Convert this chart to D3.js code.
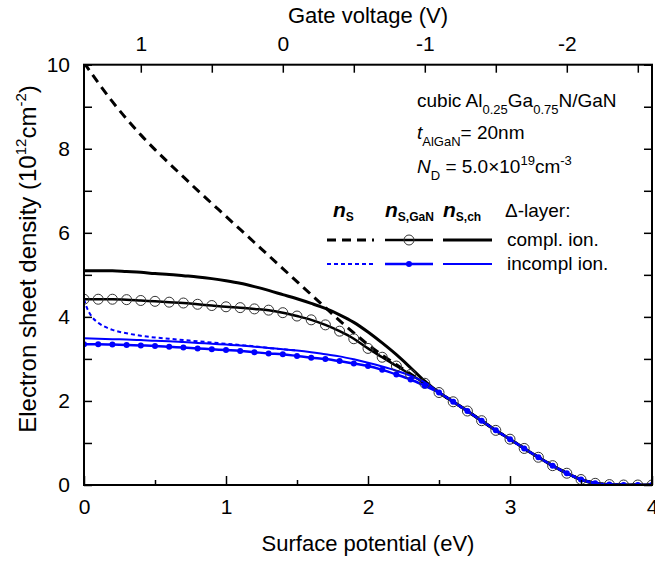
<!DOCTYPE html>
<html lang="en">
<head>
<meta charset="UTF-8">
<title>Electron sheet density</title>
<script src="https://d3js.org/d3.v7.min.js"></script>
<style>
body { margin: 0; background: #fff; }
svg text { font-family: "Liberation Sans", Arial, sans-serif; fill: #000; }
</style>
</head>
<body>
<svg width="655" height="561"></svg>
<script>
// surface potential grid (eV)
var potentialHead = [0, 0.1, 0.2, 0.3, 0.4, 0.5, 0.6, 0.7, 0.8, 0.9, 1.0, 1.1, 1.2,
    1.3, 1.4, 1.5, 1.6, 1.7, 1.8, 1.9, 2.0, 2.1, 2.2, 2.3, 2.4];
var potentialTail = [2.5, 2.6, 2.7, 2.8, 2.9, 3.0, 3.1, 3.2, 3.3, 3.4, 3.5, 3.6, 3.7, 3.8, 3.9, 4.0];
// all curves share the same tail above ~2.5 eV
var densityTail = [2.20, 1.98, 1.76, 1.53, 1.30, 1.09, 0.87, 0.66, 0.46, 0.28, 0.13, 0.04, 0.01, 0, 0, 0];

// complete ionization
var nsCompl = [10.05, 9.57, 9.12, 8.71, 8.33, 7.98, 7.65, 7.33, 7.01, 6.70, 6.39, 6.08, 5.77,
    5.46, 5.15, 4.84, 4.53, 4.22, 3.91, 3.62, 3.34, 3.09, 2.86, 2.64, 2.42];
var nsGaNCompl = [4.42, 4.42, 4.42, 4.41, 4.39, 4.37, 4.35, 4.33, 4.30, 4.27, 4.24, 4.22, 4.19,
    4.16, 4.10, 4.02, 3.93, 3.81, 3.66, 3.48, 3.25, 3.04, 2.83, 2.63, 2.42];
var nsChCompl = [5.10, 5.10, 5.10, 5.08, 5.06, 5.03, 5.01, 4.98, 4.95, 4.91, 4.86, 4.80, 4.72,
    4.63, 4.53, 4.43, 4.32, 4.20, 4.05, 3.87, 3.64, 3.38, 3.10, 2.79, 2.47];

// incomplete ionization
var potentialIncompl = [0, 0.02, 0.05, 0.1, 0.15, 0.2, 0.3, 0.4, 0.5, 0.6, 0.7, 0.8, 0.9, 1.0,
    1.1, 1.2, 1.3, 1.4, 1.5];
var nsIncompl = [4.42, 4.22, 4.03, 3.86, 3.76, 3.69, 3.61, 3.55, 3.51, 3.48, 3.45, 3.42, 3.39, 3.36,
    3.33, 3.30, 3.26, 3.23, 3.20];
var nsGaNIncompl = [3.35, 3.35, 3.34, 3.33, 3.32, 3.31, 3.29, 3.27, 3.25, 3.23, 3.21, 3.19, 3.16,
    3.13, 3.11, 3.07, 3.03, 3.00, 2.95, 2.89, 2.83, 2.74, 2.63, 2.51, 2.36];
var nsChIncompl = [3.49, 3.48, 3.47, 3.46, 3.45, 3.43, 3.42, 3.40, 3.38, 3.36, 3.34, 3.32, 3.29,
    3.26, 3.23, 3.20, 3.16, 3.11, 3.06, 2.99, 2.91, 2.82, 2.72, 2.60, 2.44];

var xTicks = [0, 1, 2, 3, 4];
var yTicks = [0, 2, 4, 6, 8, 10];
var gateTicks = [1, 0, -1, -2];
var gateDomain = [1.4, -2.6];

var svg = d3.select('svg');
var plotLeft = 84, plotRight = 652, plotTop = 64.7, plotBottom = 485;

var x = d3.scaleLinear().domain([0, 4]).range([plotLeft, plotRight]);
var y = d3.scaleLinear().domain([0, 10]).range([plotBottom, plotTop]);
var xGate = d3.scaleLinear().domain(gateDomain).range([plotLeft, plotRight]);

function pairs(xs, ys) {
    return xs.map(function(d, i) { return [d, ys[i]]; });
}
function full(head) {
    return pairs(potentialHead.concat(potentialTail), head.concat(densityTail));
}

svg.append('clipPath').attr('id', 'clip')
    .append('rect').attr('x', plotLeft).attr('y', plotTop)
    .attr('width', plotRight - plotLeft).attr('height', plotBottom - plotTop);

var line = d3.line()
    .x(function(d) { return x(d[0]); })
    .y(function(d) { return y(d[1]); })
    .curve(d3.curveMonotoneX);

var plot = svg.append('g').attr('clip-path', 'url(#clip)');

var series = [
    { data: full(nsCompl), color: '#000', width: 3, dash: '9,6' },
    { data: full(nsGaNCompl), color: '#000', width: 2.5, marker: 'circle' },
    { data: full(nsChCompl), color: '#000', width: 3 },
    { data: pairs(potentialIncompl, nsIncompl), color: '#0000ff', width: 2, dash: '4,3' },
    { data: full(nsGaNIncompl), color: '#0000ff', width: 2.5, marker: 'dot' },
    { data: full(nsChIncompl), color: '#0000ff', width: 2 }
];

series.forEach(function(s) {
    plot.append('path')
        .datum(s.data)
        .attr('d', line)
        .attr('fill', 'none')
        .attr('stroke', s.color)
        .attr('stroke-width', s.width)
        .attr('stroke-dasharray', s.dash || null);
});

// markers on top
series.forEach(function(s) {
    if (s.marker === 'circle') {
        plot.selectAll('circle.open').data(s.data).enter()
            .append('circle').attr('class', 'open')
            .attr('cx', function(d) { return x(d[0]); })
            .attr('cy', function(d) { return y(d[1]); })
            .attr('r', 5)
            .attr('fill', 'none')
            .attr('stroke', '#333')
            .attr('stroke-width', 1);
    }
});
series.forEach(function(s) {
    if (s.marker === 'dot') {
        plot.selectAll('circle.dot').data(s.data).enter()
            .append('circle').attr('class', 'dot')
            .attr('cx', function(d) { return x(d[0]); })
            .attr('cy', function(d) { return y(d[1]); })
            .attr('r', 3)
            .attr('fill', '#0000ff');
    }
});

// axes
var fs = 21;
var gx = svg.append('g').attr('transform', 'translate(0,' + plotBottom + ')')
    .call(d3.axisBottom(x).tickValues(xTicks).tickFormat(d3.format('d')).tickSizeInner(-9).tickSizeOuter(0).tickPadding(14));
var gxMinor = svg.append('g').attr('transform', 'translate(0,' + plotBottom + ')')
    .call(d3.axisBottom(x).tickValues([0.5, 1.5, 2.5, 3.5]).tickFormat('').tickSizeInner(-5).tickSizeOuter(0));
var gy = svg.append('g').attr('transform', 'translate(' + plotLeft + ',0)')
    .call(d3.axisLeft(y).tickValues(yTicks).tickFormat(d3.format('d')).tickSizeInner(-8).tickSizeOuter(0).tickPadding(14));
var gyMinor = svg.append('g').attr('transform', 'translate(' + plotLeft + ',0)')
    .call(d3.axisLeft(y).tickValues([1, 3, 5, 7, 9]).tickFormat('').tickSizeInner(-8).tickSizeOuter(0));
var gr = svg.append('g').attr('transform', 'translate(' + plotRight + ',0)')
    .call(d3.axisRight(y).ticks(10).tickFormat('').tickSizeInner(-8).tickSizeOuter(0));
var gt = svg.append('g').attr('transform', 'translate(0,' + plotTop + ')')
    .call(d3.axisTop(xGate).tickValues(gateTicks).tickFormat(d3.format('d')).tickSizeInner(-8).tickSizeOuter(0).tickPadding(14));
var gtMinor = svg.append('g').attr('transform', 'translate(0,' + plotTop + ')')
    .call(d3.axisTop(xGate).tickValues([0.5, -0.5, -1.5, -2.5]).tickFormat('').tickSizeInner(-8).tickSizeOuter(0));

[gx, gxMinor, gy, gyMinor, gr, gt, gtMinor].forEach(function(g) {
    g.select('.domain').remove();
    g.selectAll('line').attr('stroke', '#000').attr('stroke-width', 1.5);
    g.selectAll('text').attr('font-size', fs).attr('font-family', '"Liberation Sans", Arial, sans-serif');
});
gt.selectAll('text').text(function(d) { return d < 0 ? '-' + Math.abs(d) : d; });

svg.append('rect')
    .attr('x', plotLeft).attr('y', plotTop)
    .attr('width', plotRight - plotLeft).attr('height', plotBottom - plotTop)
    .attr('fill', 'none').attr('stroke', '#000').attr('stroke-width', 2);

// axis titles
svg.append('text').attr('x', 368).attr('y', 551).attr('text-anchor', 'middle')
    .attr('font-size', 22).text('Surface potential (eV)');
svg.append('text').attr('x', 368).attr('y', 23).attr('text-anchor', 'middle')
    .attr('font-size', 22).text('Gate voltage (V)');

var yl = svg.append('text').attr('transform', 'translate(36,259) rotate(-90)')
    .attr('text-anchor', 'middle').attr('font-size', 24);
yl.append('tspan').text('Electron sheet density (10');
yl.append('tspan').attr('font-size', 15).attr('dy', -10).text('12');
yl.append('tspan').attr('dy', 10).text('cm');
yl.append('tspan').attr('font-size', 15).attr('dy', -10).text('-2');
yl.append('tspan').attr('dy', 10).text(')');

// annotation
var a1 = svg.append('text').attr('x', 417).attr('y', 107).attr('font-size', 19);
a1.append('tspan').text('cubic Al');
a1.append('tspan').attr('font-size', 13).attr('dy', 7).text('0.25');
a1.append('tspan').attr('dy', -7).text('Ga');
a1.append('tspan').attr('font-size', 13).attr('dy', 7).text('0.75');
a1.append('tspan').attr('dy', -7).text('N/GaN');

var a2 = svg.append('text').attr('x', 417).attr('y', 139).attr('font-size', 19);
a2.append('tspan').attr('font-style', 'italic').text('t');
a2.append('tspan').attr('font-size', 13).attr('dy', 7).text('AlGaN');
a2.append('tspan').attr('dy', -7).text('= 20nm');

var a3 = svg.append('text').attr('x', 417).attr('y', 173).attr('font-size', 19);
a3.append('tspan').attr('font-style', 'italic').text('N');
a3.append('tspan').attr('font-size', 13).attr('dy', 7).text('D');
a3.append('tspan').attr('dy', -7).text(' = 5.0\u00d710');
a3.append('tspan').attr('font-size', 13).attr('dy', -8).text('19');
a3.append('tspan').attr('dy', 8).text('cm');
a3.append('tspan').attr('font-size', 13).attr('dy', -8).text('-3');

// legend
var headers = [
    { x: 333, sub: 'S' },
    { x: 385, sub: 'S,GaN' },
    { x: 443, sub: 'S,ch' }
];
headers.forEach(function(h) {
    var t = svg.append('text').attr('x', h.x).attr('y', 217).attr('font-size', 21)
        .attr('font-weight', 'bold').attr('font-style', 'italic');
    t.append('tspan').text('n');
    t.append('tspan').attr('font-size', 12).attr('font-style', 'normal').attr('dy', 4).text(h.sub);
});
svg.append('text').attr('x', 505).attr('y', 217).attr('font-size', 19).text('\u0394-layer:');

var legendRows = [
    { y: 240, color: '#000', width: 3, dashWidth: 3, dash: '9,6', dotted: 2.5, label: 'compl. ion.', marker: 'circle' },
    { y: 264, color: '#0000ff', width: 2, dashWidth: 2, dash: '4,3', dotted: 2.5, label: 'incompl ion.', marker: 'dot' }
];
legendRows.forEach(function(r) {
    svg.append('line').attr('x1', 327).attr('x2', 374).attr('y1', r.y).attr('y2', r.y)
        .attr('stroke', r.color).attr('stroke-width', r.dashWidth).attr('stroke-dasharray', r.dash);
    svg.append('line').attr('x1', 385).attr('x2', 433).attr('y1', r.y).attr('y2', r.y)
        .attr('stroke', r.color).attr('stroke-width', r.dotted);
    if (r.marker === 'circle') {
        svg.append('circle').attr('cx', 409).attr('cy', r.y).attr('r', 5)
            .attr('fill', 'none').attr('stroke', '#333').attr('stroke-width', 1);
    } else {
        svg.append('circle').attr('cx', 409).attr('cy', r.y).attr('r', 3).attr('fill', r.color);
    }
    svg.append('line').attr('x1', 443).attr('x2', 492).attr('y1', r.y).attr('y2', r.y)
        .attr('stroke', r.color).attr('stroke-width', r.width);
    svg.append('text').attr('x', 507).attr('y', r.y + 6).attr('font-size', 19).text(r.label);
});
</script>
</body>
</html>
